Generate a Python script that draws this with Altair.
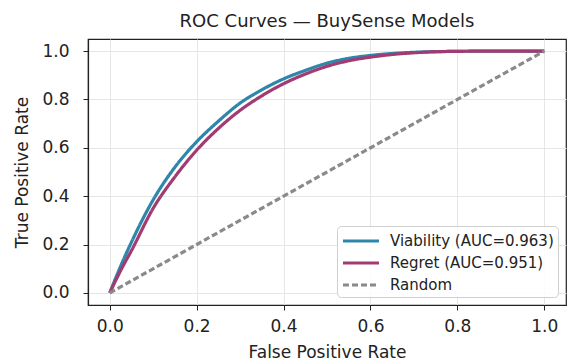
import altair as alt
import pandas as pd

# ---- data ----
series_names = ["Viability (AUC=0.963)", "Regret (AUC=0.951)", "Random"]
series_colors = ["#2E86AB", "#A23B72", "#8a8a8a"]

viability_fpr = [0.0, 0.025, 0.05, 0.10, 0.15, 0.20, 0.25, 0.30, 0.35, 0.40, 0.45, 0.50, 0.55, 0.60, 0.65, 0.70, 0.80, 0.90, 1.0]
viability_tpr = [0.0, 0.11, 0.21, 0.385, 0.52, 0.625, 0.71, 0.785, 0.84, 0.885, 0.92, 0.95, 0.97, 0.982, 0.99, 0.995, 0.999, 1.0, 1.0]

regret_fpr = [0.0, 0.025, 0.05, 0.10, 0.15, 0.20, 0.25, 0.30, 0.35, 0.40, 0.45, 0.50, 0.55, 0.60, 0.65, 0.70, 0.80, 0.90, 1.0]
regret_tpr = [0.0, 0.092, 0.175, 0.35, 0.48, 0.59, 0.68, 0.755, 0.815, 0.865, 0.905, 0.937, 0.96, 0.975, 0.986, 0.993, 0.999, 1.0, 1.0]

random_fpr = [0.0, 1.0]
random_tpr = [0.0, 1.0]

tick_values = [0.0, 0.2, 0.4, 0.6, 0.8, 1.0]

rows = []
for i, (xs, ys) in enumerate([(viability_fpr, viability_tpr), (regret_fpr, regret_tpr), (random_fpr, random_tpr)]):
    for j, (x, y) in enumerate(zip(xs, ys)):
        rows.append({"series": series_names[i], "fpr": x, "tpr": y, "idx": i * 100 + j})
df = pd.DataFrame(rows)

font = "DejaVu Sans"

chart = alt.Chart(df).mark_line(interpolate="monotone", strokeCap="butt").encode(
    x=alt.X("fpr:Q", title="False Positive Rate",
            scale=alt.Scale(domain=[-0.05, 1.05], nice=False, zero=False),
            axis=alt.Axis(values=tick_values, format=".1f")),
    y=alt.Y("tpr:Q", title="True Positive Rate",
            scale=alt.Scale(domain=[-0.05, 1.05], nice=False, zero=False),
            axis=alt.Axis(values=tick_values, format=".1f")),
    color=alt.Color("series:N", scale=alt.Scale(domain=series_names, range=series_colors),
                    legend=alt.Legend(title=None)),
    strokeDash=alt.StrokeDash("series:N", scale=alt.Scale(domain=series_names, range=[[1, 0], [1, 0], [6, 3]]),
                              legend=alt.Legend(title=None)),
    strokeWidth=alt.StrokeWidth("series:N", scale=alt.Scale(domain=series_names, range=[3.2, 3.2, 1.5]),
                                legend=alt.Legend(title=None)),
    order="idx:Q",
).properties(
    width=478,
    height=266,
    title=alt.TitleParams("ROC Curves — BuySense Models", fontSize=18, fontWeight="normal",
                          font=font, color="#222", offset=8),
    autosize=alt.AutoSizeParams(type="none"),
    padding={"left": 88, "top": 39, "right": 1, "bottom": 59},
).configure_view(
    stroke="#222", strokeWidth=1.2
).configure_axis(
    labelFont=font, titleFont=font, labelFontSize=17, titleFontSize=17,
    labelColor="#222", titleColor="#222", titleFontWeight="normal",
    domainColor="#222", tickColor="#222", tickSize=5, domainWidth=1.2,
    gridColor="#e6e6e6", gridWidth=1,
).configure_axisX(
    labelPadding=8, titlePadding=10,
).configure_axisY(
    labelPadding=14, titlePadding=10,
).configure_legend(
    orient="bottom-right", offset=8, fillColor="rgba(255,255,255,0.85)",
    strokeColor="#d0d0d0", cornerRadius=4, padding=4,
    symbolType="M-2,0L2,0", symbolSize=324, symbolOffset=9,
    labelFontSize=15, labelFont=font,
    labelColor="#222", labelOffset=18, rowPadding=3, labelLimit=400,
)

chart.save("out.html", embed_options={"renderer": "svg", "actions": False})
